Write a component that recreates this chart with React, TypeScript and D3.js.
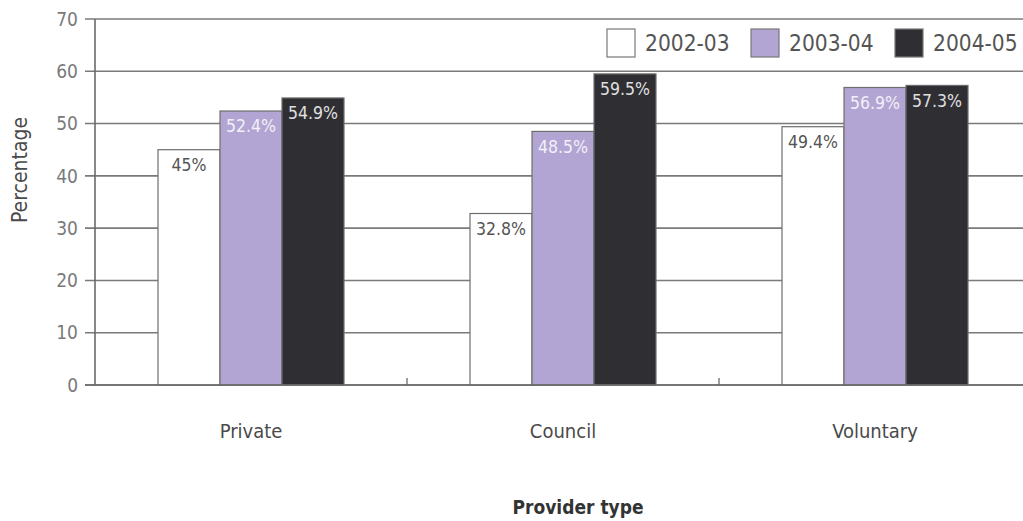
import React from "react";
import * as d3 from "d3";

const categories = ["Private", "Council", "Voluntary"];
const seriesNames = ["2002-03", "2003-04", "2004-05"];
const values2002 = [45, 32.8, 49.4];
const values2003 = [52.4, 48.5, 56.9];
const values2004 = [54.9, 59.5, 57.3];
const valueLabels2002 = ["45%", "32.8%", "49.4%"];
const valueLabels2003 = ["52.4%", "48.5%", "56.9%"];
const valueLabels2004 = ["54.9%", "59.5%", "57.3%"];
const yTicks = [0, 10, 20, 30, 40, 50, 60, 70];

const seriesValues = [values2002, values2003, values2004];
const seriesLabels = [valueLabels2002, valueLabels2003, valueLabels2004];
const fills = ["#ffffff", "#b2a5d3", "#2f2f33"];
const labelColors = ["#555555", "#f2f0f8", "#e0e0e0"];

const FONT = "'Liberation Sans Narrow', 'DejaVu Sans Condensed', 'Roboto Condensed', sans-serif";

export default function App() {
  const W = 1023, H = 521;
  const x0 = 95, top = 19, bottom = 385;
  const y = d3.scaleLinear().domain([0, 70]).range([bottom, top]);
  const xBand = d3.scaleBand<string>().domain(categories).range([x0, x0 + 312 * 3]).paddingInner(0).paddingOuter(0);
  const xInner = d3.scaleBand<string>().domain(seriesNames).range([63, 63 + 186]).padding(0);

  return (
    <svg width={W} height={H} style={{ position: "absolute", left: 0, top: 0, background: "#fff" }} fontFamily={FONT}>
      <rect x={0} y={0} width={W} height={H} fill="#fff" />
      {yTicks.map((t) => (
        <line key={"g" + t} x1={x0 - 10} x2={W} y1={y(t)} y2={y(t)} stroke="#7a7a7a" strokeWidth={1.6} />
      ))}
      <line x1={x0} x2={x0} y1={top} y2={bottom} stroke="#6a6a6a" strokeWidth={1.6} />
      {yTicks.map((t) => (
        <text key={"t" + t} x={x0 - 17} y={y(t)} dy="0.35em" textAnchor="end" fontSize={19} fill="#7a7a7a">
          {t}
        </text>
      ))}
      {xBand.domain().slice(1).map((c) => (
        <line key={"ct" + c} x1={xBand(c)!} x2={xBand(c)!} y1={bottom} y2={bottom - 7} stroke="#6a6a6a" strokeWidth={1.3} />
      ))}
      {categories.map((c, ci) => (
        <g key={c} transform={`translate(${xBand(c)},0)`}>
          {seriesNames.map((s, si) => {
            const v = seriesValues[si][ci];
            const bx = xInner(s)!;
            const bw = xInner.bandwidth();
            return (
              <g key={s}>
                <rect x={bx} y={y(v)} width={bw} height={y(0) - y(v)} fill={fills[si]} stroke="#6e6e6e" strokeWidth={1.2} />
                <text x={bx + bw / 2} y={y(v) + 15} dy="0.35em" textAnchor="middle" fontSize={17.5} fill={labelColors[si]}>
                  {seriesLabels[si][ci]}
                </text>
              </g>
            );
          })}
          <text x={xBand.bandwidth() / 2} y={431} dy="0.35em" textAnchor="middle" fontSize={20} fill="#4a4a4a">
            {c}
          </text>
        </g>
      ))}
      <line x1={x0 - 10} x2={W} y1={bottom} y2={bottom} stroke="#6a6a6a" strokeWidth={1.6} />
      {seriesNames.map((s, i) => {
        const lx = [607, 751, 895][i];
        return (
          <g key={"l" + s}>
            <rect x={lx} y={29} width={28} height={28} fill={fills[i]} stroke="#777" strokeWidth={1.2} />
            <text x={lx + 38} y={43} dy="0.35em" fontSize={22.5} fill="#555">
              {s}
            </text>
          </g>
        );
      })}
      <text transform="translate(20,170) rotate(-90)" textAnchor="middle" dy="0.35em" fontSize={21} fill="#4a4a4a">
        Percentage
      </text>
      <text x={578} y={507} dy="0.35em" textAnchor="middle" fontSize={19} fontWeight="bold" fill="#333">
        Provider type
      </text>
    </svg>
  );
}
